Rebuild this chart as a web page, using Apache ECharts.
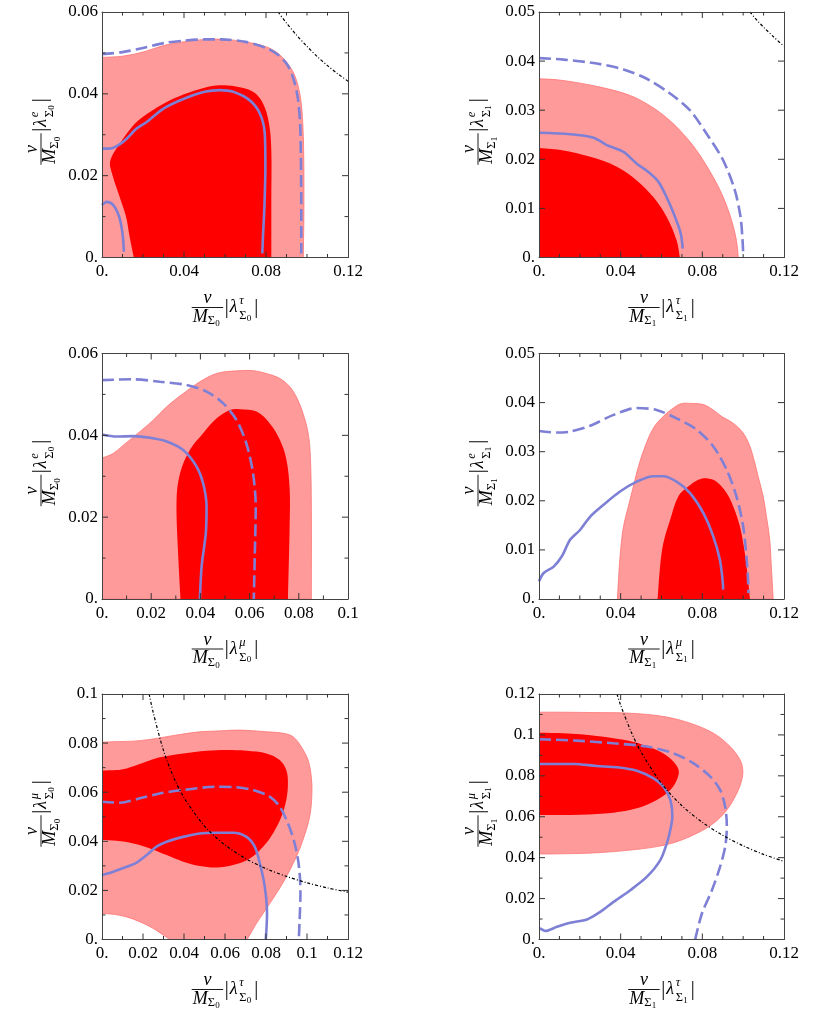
<!DOCTYPE html>
<html>
<head>
<meta charset="utf-8">
<title>contours</title>
<script src="https://cdn.jsdelivr.net/npm/echarts@6/dist/echarts.min.js"></script>
<style>
  html, body { margin: 0; padding: 0; background: #fff; }
  #main { width: 830px; height: 1015px; }
</style>
</head>
<body>
<div id="main"></div>
<script>
// axes of the six panels (left to right, top to bottom)
var xMax   = [0.12, 0.12, 0.1, 0.12, 0.12, 0.12];
var xStep  = [0.04, 0.04, 0.02, 0.04, 0.02, 0.04];
var xMinor = [4, 4, 2, 4, 2, 4];
var yMax   = [0.06, 0.05, 0.06, 0.05, 0.1, 0.12];
var yStep  = [0.02, 0.01, 0.02, 0.01, 0.02, 0.02];
var yMinor = [2, 1, 2, 1, 2, 2];
var xSup = ['τ', 'τ', 'μ', 'μ', 'τ', 'τ'];
var ySup = ['e', 'e', 'e', 'e', 'μ', 'μ'];
var sigmaIdx = ['0', '1', '0', '1', '0', '1'];

// panel 1
var p1Outer = [[0,0],[0,0.0489],[0.01,0.0492],[0.02,0.0502],[0.03,0.0518],[0.04,0.0527],[0.05,0.0533],[0.06,0.0533],[0.07,0.0527],[0.08,0.0515],[0.085,0.0502],[0.09,0.0478],[0.094,0.0445],[0.0965,0.040],[0.0978,0.034],[0.0984,0.025],[0.0985,0.012],[0.0982,0]];
var p1Inner = [[0.0155,0],[0.0135,0.005],[0.0117,0.01],[0.0085,0.015],[0.0052,0.02],[0.004,0.0235],[0.0088,0.0279],[0.0153,0.0323],[0.02,0.0344],[0.03,0.0376],[0.04,0.0399],[0.05,0.0415],[0.0575,0.0421],[0.064,0.0419],[0.0737,0.0405],[0.0786,0.0376],[0.0815,0.0327],[0.0826,0.0262],[0.0826,0.014],[0.0826,0]];
var p1Solid = [[0,0.0266],[0.0039,0.0266],[0.0104,0.0283],[0.0169,0.0315],[0.0218,0.0331],[0.03,0.0364],[0.04,0.0388],[0.05,0.0405],[0.0575,0.0409],[0.064,0.0405],[0.0721,0.0384],[0.077,0.0352],[0.0794,0.0303],[0.0797,0.0221],[0.0792,0.012],[0.0786,0.0059],[0.0782,0.001]];
var p1Solid2 = [[0,0.0128],[0.0023,0.0136],[0.0055,0.0128],[0.0084,0.0099],[0.01,0.0059],[0.0107,0.0014]];
var p1Dashed = [[0,0.0497],[0.01,0.0502],[0.02,0.0512],[0.03,0.0524],[0.04,0.053],[0.05,0.0533],[0.058,0.0533],[0.07,0.0527],[0.08,0.0512],[0.086,0.0495],[0.0905,0.047],[0.0935,0.0435],[0.0955,0.039],[0.0966,0.033],[0.097,0.025],[0.0972,0.012],[0.0972,0.001]];
var p1Bound = [[0.0859,0.06],[0.09,0.0573],[0.095,0.0543],[0.1,0.0516],[0.105,0.0491],[0.11,0.0469],[0.115,0.0449],[0.12,0.0431]];

// panel 2
var p2Outer = [[0,0],[0,0.0364],[0.0088,0.0362],[0.0202,0.0355],[0.0332,0.0344],[0.0446,0.033],[0.0528,0.0313],[0.0609,0.029],[0.069,0.0259],[0.0772,0.0218],[0.0853,0.0164],[0.0902,0.0123],[0.0943,0.0076],[0.0967,0.0035],[0.0976,0]];
var p2Inner = [[0,0],[0,0.0223],[0.012,0.0218],[0.0251,0.0205],[0.0381,0.0185],[0.0479,0.0157],[0.056,0.0123],[0.0625,0.0083],[0.0674,0.0035],[0.069,0]];
var p2Solid = [[0,0.0254],[0.0153,0.0251],[0.0267,0.0244],[0.0332,0.0229],[0.0414,0.0215],[0.0479,0.0191],[0.0536,0.0174],[0.0585,0.0154],[0.0625,0.0123],[0.0666,0.0083],[0.0694,0.0049],[0.0704,0.0018]];
var p2Dashed = [[0,0.0406],[0.012,0.0403],[0.0283,0.0395],[0.0414,0.0383],[0.0528,0.0364],[0.0642,0.0334],[0.0739,0.03],[0.0821,0.0252],[0.0902,0.0198],[0.0959,0.0137],[0.0987,0.0083],[0.0997,0.0035],[0.1,0.0008]];
var p2Bound = [[0.1033,0.05],[0.107,0.0482],[0.11,0.0469],[0.115,0.0449],[0.12,0.043]];

// panel 3
var p3Outer = [[0,0],[0,0.0344],[0.0046,0.0356],[0.0087,0.0376],[0.0154,0.0409],[0.0208,0.0437],[0.0263,0.047],[0.033,0.0502],[0.0398,0.0531],[0.0465,0.0551],[0.0533,0.0557],[0.0614,0.0558],[0.0668,0.0551],[0.0723,0.0539],[0.0763,0.0519],[0.079,0.0494],[0.0817,0.0454],[0.0838,0.0405],[0.0847,0.0348],[0.0851,0.0226],[0.0851,0]];
var p3Inner = [[0.0319,0],[0.031,0.0104],[0.0303,0.0242],[0.0317,0.0307],[0.0357,0.0364],[0.0411,0.0405],[0.0465,0.0441],[0.052,0.0462],[0.056,0.0464],[0.0628,0.0458],[0.0682,0.0429],[0.0723,0.0389],[0.075,0.034],[0.0763,0.0267],[0.0763,0.0185],[0.0756,0]];
var p3Solid = [[0,0.0402],[0.006,0.0397],[0.0127,0.0398],[0.0195,0.0394],[0.0263,0.0385],[0.033,0.0364],[0.0384,0.0324],[0.0411,0.0283],[0.0425,0.0226],[0.0422,0.0161],[0.0405,0.008],[0.0398,0]];
var p3Dashed = [[0,0.0535],[0.0127,0.0537],[0.0235,0.0531],[0.0344,0.0523],[0.0425,0.0507],[0.0493,0.0478],[0.0547,0.0437],[0.0587,0.038],[0.0614,0.0307],[0.0625,0.0226],[0.0621,0.0104],[0.0617,0]];

// panel 4
var p4Outer = [[0.0384,0],[0.0397,0.0087],[0.0414,0.0148],[0.0438,0.0189],[0.0462,0.0229],[0.0487,0.027],[0.052,0.0311],[0.056,0.0348],[0.0609,0.0372],[0.0658,0.0389],[0.0699,0.0398],[0.0756,0.0398],[0.0805,0.0396],[0.0853,0.0385],[0.0894,0.0372],[0.0951,0.0358],[0.1,0.0338],[0.1033,0.0311],[0.1057,0.0277],[0.1073,0.025],[0.1098,0.0209],[0.1114,0.0168],[0.113,0.0121],[0.1138,0.0066],[0.1147,0]];
var p4Inner = [[0.0581,0],[0.0593,0.0066],[0.0609,0.0114],[0.0642,0.0161],[0.0682,0.0209],[0.0731,0.0229],[0.078,0.0243],[0.0821,0.0246],[0.087,0.0239],[0.0919,0.0216],[0.0951,0.0189],[0.0984,0.0148],[0.1008,0.0094],[0.1024,0.0039],[0.1033,0]];
var p4Solid = [[0,0.0036],[0.0023,0.0053],[0.0072,0.0066],[0.0112,0.0087],[0.0153,0.0121],[0.0202,0.0141],[0.0251,0.0168],[0.0316,0.0192],[0.0397,0.0219],[0.0479,0.0239],[0.056,0.025],[0.0609,0.025],[0.0674,0.0239],[0.0739,0.0216],[0.0805,0.0175],[0.0853,0.0128],[0.0886,0.008],[0.0899,0.0039],[0.0902,0.0019]];
var p4Dashed = [[0,0.0342],[0.0088,0.0339],[0.0153,0.0341],[0.0251,0.0353],[0.0365,0.0375],[0.0479,0.0389],[0.0576,0.0385],[0.0674,0.0368],[0.0772,0.0345],[0.0853,0.0311],[0.0919,0.0263],[0.0967,0.0209],[0.1,0.0148],[0.1016,0.0087],[0.1024,0.0039],[0.1026,0.0012]];

// panel 5
var p5Outer = [[0,0.0106],[0,0.0804],[0.0071,0.0806],[0.0153,0.0808],[0.0234,0.0815],[0.0315,0.0826],[0.0396,0.0837],[0.0477,0.0846],[0.0558,0.0849],[0.0672,0.0853],[0.0802,0.0846],[0.0883,0.084],[0.0932,0.0826],[0.0972,0.0785],[0.1005,0.0731],[0.1021,0.0663],[0.1024,0.0595],[0.1013,0.05],[0.098,0.0405],[0.0948,0.0337],[0.0899,0.0255],[0.0851,0.0188],[0.0802,0.0126],[0.0753,0.0065],[0.0708,0],[0.0331,0],[0.0299,0.0018],[0.025,0.0045],[0.0185,0.0072],[0.012,0.0092],[0.0055,0.0103]];
var p5Inner = [[0,0.0405],[0,0.0688],[0.0071,0.069],[0.012,0.0697],[0.0201,0.072],[0.0282,0.0742],[0.0396,0.0758],[0.051,0.0769],[0.0607,0.0772],[0.0705,0.0769],[0.0802,0.0758],[0.0867,0.0731],[0.0899,0.069],[0.0907,0.0636],[0.0899,0.0568],[0.0875,0.05],[0.0834,0.0432],[0.0786,0.0378],[0.0721,0.033],[0.064,0.0303],[0.0558,0.0293],[0.0477,0.0299],[0.0396,0.0317],[0.0315,0.0344],[0.0234,0.0371],[0.0153,0.0391],[0.0071,0.0402]];
var p5Solid = [[0,0.0262],[0.0055,0.0276],[0.012,0.0296],[0.0169,0.0313],[0.0218,0.0344],[0.0266,0.0378],[0.0315,0.0398],[0.0396,0.0418],[0.0477,0.0432],[0.0558,0.0435],[0.064,0.0435],[0.0705,0.0418],[0.0745,0.0378],[0.077,0.031],[0.0794,0.0215],[0.0805,0.0106],[0.0799,0]];
var p5Dashed = [[0,0.0561],[0.0088,0.0557],[0.0185,0.0575],[0.0282,0.0595],[0.0396,0.0609],[0.0558,0.0622],[0.0656,0.062],[0.0737,0.0609],[0.0818,0.0582],[0.0867,0.0541],[0.0907,0.0473],[0.094,0.0391],[0.0961,0.0296],[0.0968,0.0188],[0.0964,0.0079],[0.096,0]];
var p5Bound = [[0.023,0.1],[0.025,0.0924],[0.03,0.077],[0.035,0.066],[0.04,0.0578],[0.05,0.0462],[0.06,0.0385],[0.07,0.033],[0.08,0.0289],[0.09,0.0257],[0.1,0.0231],[0.11,0.021],[0.12,0.0193]];

// panel 6
var p6Outer = [[0,0.0418],[0,0.1111],[0.012,0.1111],[0.0283,0.1109],[0.0446,0.1106],[0.061,0.109],[0.0741,0.1057],[0.0855,0.1008],[0.0936,0.0943],[0.0985,0.0878],[0.0998,0.0829],[0.0993,0.078],[0.0969,0.0715],[0.092,0.0633],[0.0855,0.0568],[0.0773,0.0519],[0.0675,0.0478],[0.0577,0.0454],[0.0446,0.0437],[0.0283,0.0424],[0.012,0.0419]];
var p6Inner = [[0,0.0608],[0,0.1011],[0.012,0.1008],[0.0283,0.0995],[0.0414,0.0976],[0.0512,0.0951],[0.0594,0.0918],[0.0651,0.0878],[0.0684,0.0829],[0.0675,0.078],[0.0643,0.0731],[0.0577,0.0682],[0.0479,0.0641],[0.0365,0.062],[0.0202,0.061]];
var p6Solid = [[0,0.0858],[0.012,0.0858],[0.017,0.0858],[0.0283,0.0848],[0.0381,0.0842],[0.0479,0.0825],[0.0561,0.0788],[0.061,0.0747],[0.0643,0.0682],[0.0653,0.06],[0.0643,0.0535],[0.0626,0.047],[0.0594,0.0388],[0.0529,0.0307],[0.0447,0.0241],[0.0365,0.0184],[0.03,0.0135],[0.0235,0.0098],[0.0153,0.0082],[0.0088,0.0062],[0.0031,0.0042],[0.0015,0.0049],[0.0003,0.0054]];
var p6Dashed = [[0,0.0979],[0.0202,0.0971],[0.0365,0.0959],[0.0529,0.0943],[0.0659,0.091],[0.0757,0.0861],[0.0839,0.0796],[0.0887,0.0731],[0.0912,0.0649],[0.092,0.0551],[0.0912,0.0454],[0.0887,0.0356],[0.0847,0.0241],[0.0798,0.0127],[0.0765,0]];
var p6Bound = [[0.0382,0.12],[0.04,0.1145],[0.045,0.1018],[0.05,0.0916],[0.06,0.0763],[0.07,0.0654],[0.08,0.0573],[0.09,0.0509],[0.1,0.0458],[0.11,0.0416],[0.12,0.0382]];

var panels = [
    {outer: p1Outer, inner: p1Inner, solid: [p1Solid, p1Solid2], dashed: p1Dashed, bound: p1Bound},
    {outer: p2Outer, inner: p2Inner, solid: [p2Solid], dashed: p2Dashed, bound: p2Bound},
    {outer: p3Outer, inner: p3Inner, solid: [p3Solid], dashed: p3Dashed, bound: null},
    {outer: p4Outer, inner: p4Inner, solid: [p4Solid], dashed: p4Dashed, bound: null},
    {outer: p5Outer, inner: p5Inner, solid: [p5Solid], dashed: p5Dashed, bound: p5Bound},
    {outer: p6Outer, inner: p6Inner, solid: [p6Solid], dashed: p6Dashed, bound: p6Bound}
];

var SERIF = '"Liberation Serif", "DejaVu Serif", serif';
var BLUE = '#7E80D5';
var colLeft = [102, 539];
var colWidth = [246, 245];
var rowTop = [12, 353.5, 694];
var plotH = 245.5;

function tickText(v) {
    return v === 0 ? '0.' : String(Math.round(v * 1000) / 1000);
}

function makeAxis(k, max, step, pos, isX) {
    return {
        type: 'value',
        gridIndex: k,
        position: pos,
        z: 10,
        min: 0,
        max: max,
        interval: step,
        axisLine: {show: true, onZero: false, lineStyle: {color: '#444', width: 1}},
        axisTick: {show: false},
        minorTick: {show: false},
        splitLine: {show: false},
        axisLabel: {
            show: pos === 'bottom' || pos === 'left',
            showMinLabel: true,
            showMaxLabel: true,
            hideOverlap: false,
            formatter: tickText,
            fontFamily: SERIF,
            fontSize: 17,
            color: '#000',
            margin: isX ? 6 : 4
        }
    };
}

// polygon of a filled region, drawn through the grid's own scales;
// vertices lying on an axis are doubled so the smoothing keeps those corners sharp
function regionSeries(k, pts, fill, stroke) {
    return {
        type: 'custom',
        xAxisIndex: 2 * k,
        yAxisIndex: 2 * k,
        clip: true,
        silent: true,
        data: pts,
        renderItem: function (params, api) {
            if (params.dataIndex !== 0) return null;
            var points = [];
            pts.forEach(function (p) {
                var c = api.coord(p);
                points.push(c);
                if (p[0] === 0 || p[1] === 0) points.push(c.slice());
            });
            return {
                type: 'polygon',
                shape: {points: points, smooth: 0.35},
                style: {fill: fill, stroke: stroke, lineWidth: stroke ? 0.8 : 0}
            };
        }
    };
}

function lineSeries(k, pts, color, width, dash) {
    return {
        type: 'line',
        xAxisIndex: 2 * k,
        yAxisIndex: 2 * k,
        data: pts,
        showSymbol: false,
        smooth: 0.3,
        silent: true,
        lineStyle: {color: color, width: width, type: dash}
    };
}

// v/M_Σ |λ^a_Σ| label, local origin at left end of the fraction bar
function mathLabel(x, y, rot, sup, idx) {
    function t(tx, ty, s, font, align) {
        return {type: 'text', x: tx, y: ty, style: {text: s, font: font, fill: '#000', align: align || 'left', verticalAlign: 'middle'}};
    }
    var big = 'italic 18px ' + SERIF;
    var sm = '12.5px ' + SERIF;
    var smi = 'italic 12.5px ' + SERIF;
    var xs = '9px ' + SERIF;
    return {
        type: 'group', x: x, y: y, rotation: rot, silent: true,
        children: [
            t(15.75, -9, 'v', big, 'center'),
            {type: 'line', shape: {x1: 0, y1: 0, x2: 31.5, y2: 0}, style: {stroke: '#000', lineWidth: 0.9}},
            t(1, 9.5, 'M', big),
            t(16, 13.5, 'Σ', sm),
            t(23.5, 16.5, idx, xs),
            t(35, 0, '|', '20px ' + SERIF, 'center'),
            t(38, 0, 'λ', big),
            t(47.5, -6.5, sup, smi),
            t(47.5, 8.5, 'Σ', sm),
            t(55, 11, idx, xs),
            t(64.5, 0, '|', '20px ' + SERIF, 'center')
        ]
    };
}

// inward frame ticks on all four sides, positioned with the chart's own converter
function frameTicks(chart, k) {
    var kids = [];
    function seg(x1, y1, x2, y2) {
        kids.push({type: 'line', z: 100, shape: {x1: x1, y1: y1, x2: x2, y2: y2}, style: {stroke: '#333', lineWidth: 1}});
    }
    var dx = xStep[k] / xMinor[k], nx = Math.round(xMax[k] / dx);
    for (var i = 1; i < nx; i++) {
        var len = i % xMinor[k] === 0 ? 6 : 3.5;
        var b = chart.convertToPixel({gridIndex: k}, [i * dx, 0]);
        var t = chart.convertToPixel({gridIndex: k}, [i * dx, yMax[k]]);
        seg(b[0], b[1], b[0], b[1] - len);
        seg(t[0], t[1], t[0], t[1] + len);
    }
    var dy = yStep[k] / yMinor[k], ny = Math.round(yMax[k] / dy);
    for (var j = 1; j < ny; j++) {
        var lenY = j % yMinor[k] === 0 ? 6 : 3.5;
        var l = chart.convertToPixel({gridIndex: k}, [0, j * dy]);
        var r = chart.convertToPixel({gridIndex: k}, [xMax[k], j * dy]);
        seg(l[0], l[1], l[0] + lenY, l[1]);
        seg(r[0], r[1], r[0] - lenY, r[1]);
    }
    return {type: 'group', silent: true, z: 100, children: kids};
}

var option = {
    animation: false,
    backgroundColor: '#fff',
    grid: [],
    xAxis: [],
    yAxis: [],
    series: [],
    graphic: []
};

for (var k = 0; k < 6; k++) {
    var col = k % 2, row = Math.floor(k / 2);
    var gLeft = colLeft[col], gTop = rowTop[row], gW = colWidth[col];
    option.grid.push({left: gLeft, top: gTop, width: gW, height: plotH});
    option.xAxis.push(makeAxis(k, xMax[k], xStep[k], 'bottom', true));
    option.xAxis.push(makeAxis(k, xMax[k], xStep[k], 'top', true));
    option.yAxis.push(makeAxis(k, yMax[k], yStep[k], 'left', false));
    option.yAxis.push(makeAxis(k, yMax[k], yStep[k], 'right', false));

    var p = panels[k];
    option.series.push(regionSeries(k, p.outer, '#FF9A9A', '#FF7373'));
    option.series.push(regionSeries(k, p.inner, '#FF0000', null));
    p.solid.forEach(function (s) {
        option.series.push(lineSeries(k, s, BLUE, 2.6, 'solid'));
    });
    option.series.push(lineSeries(k, p.dashed, BLUE, 2.6, [12, 5]));
    if (p.bound) option.series.push(lineSeries(k, p.bound, '#000', 1.2, [3, 2, 1, 2]));

    option.graphic.push(mathLabel(gLeft + gW / 2 - 33.3, gTop + plotH + 50, 0, xSup[k], sigmaIdx[k]));
    option.graphic.push(mathLabel(gLeft - 61, gTop + plotH / 2 + 30, Math.PI / 2, ySup[k], sigmaIdx[k]));
}

var myChart = echarts.init(document.getElementById('main'));
myChart.setOption(option);

try {
    var withTicks = option.graphic.slice();
    for (var m = 0; m < 6; m++) withTicks.push(frameTicks(myChart, m));
    myChart.setOption({graphic: withTicks});
} catch (e) {
    // ticks are decoration only; keep the chart if they fail
}
</script>
</body>
</html>
